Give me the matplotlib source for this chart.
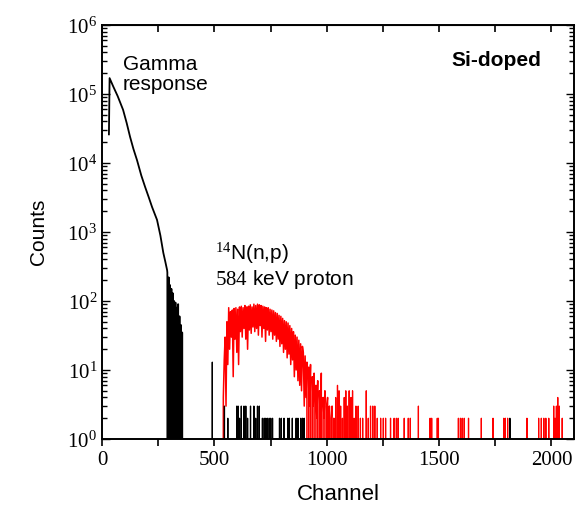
import numpy as np
import matplotlib.pyplot as plt
from matplotlib.ticker import MultipleLocator, FixedLocator, LogLocator, NullFormatter

plt.rcParams['mathtext.fontset'] = 'custom'
plt.rcParams['mathtext.rm'] = 'Liberation Serif'
plt.rcParams['mathtext.it'] = 'Liberation Serif'
plt.rcParams['font.family'] = 'Liberation Sans'

# gamma response (black)
gamma_ch = [31, 34, 50, 70, 94, 110, 125, 140, 156, 175, 192, 208, 223, 245,
            260, 273, 282, 290,
            291, 294, 297, 300, 303, 306, 309, 312, 315, 318, 321, 324, 327,
            330, 333, 336, 339, 342, 345, 348, 351, 354, 357, 360]
gamma_counts = [26000, 170000, 129000, 93000, 59000, 38000, 24000, 16000,
                11000, 6600, 4500, 3200, 2300, 1500, 890, 500, 370, 280,
                260, 0, 220, 0, 170, 0, 150, 0, 130, 0, 100, 0, 95, 0, 80, 0,
                90, 0, 60, 0, 45, 0, 35, 0]

# sparse black counts above the gamma region
black_ch = [491, 545, 560, 600, 606, 612, 620, 632, 640, 648, 661, 676, 684,
            692, 700, 714, 722, 729, 736, 744, 751, 759, 790, 798, 810, 827,
            834, 847, 864, 872, 885, 893, 900, 1815]
black_counts = [13, 3, 2, 3, 3, 2, 3, 3, 3, 2, 3, 3, 2, 3, 3, 2, 2, 2, 2, 2,
                2, 2, 2, 2, 2, 2, 2, 2, 2, 2, 2, 2, 2, 2]

# 14N(n,p) proton peak (red), every 4 channels from 536
peak_start = 536
peak_counts = [0, 4, 14, 30, 3, 50, 12, 80, 20, 70,
               30, 74, 8, 78, 28, 80, 18, 76, 12, 82,
               36, 84, 30, 80, 40, 86, 28, 82, 20, 84,
               38, 88, 34, 82, 42, 90, 36, 86, 40, 90,
               32, 88, 44, 86, 30, 84, 40, 82, 26, 80,
               38, 80, 32, 76, 36, 74, 28, 72, 32, 68,
               26, 66, 28, 62, 22, 60, 24, 56, 18, 52,
               20, 50, 15, 48, 17, 44, 12, 40, 14, 36,
               8, 32, 10, 30, 7, 27, 6, 24, 5, 22,
               18, 3, 16, 4, 13, 0, 11, 3, 12, 0,
               8, 3, 9, 0, 6, 2, 7, 0, 5, 1,
               9, 0, 4, 2, 5, 0, 3, 4, 0, 3,
               0, 2, 3, 0, 2, 0]

# sparse red tail
tail_ch = [1040, 1048, 1055, 1062, 1070, 1078, 1085, 1092, 1100, 1108, 1115,
           1122, 1130, 1140, 1150, 1160, 1176, 1185, 1195, 1205, 1214, 1225,
           1240, 1252, 1262, 1284, 1300, 1310, 1318, 1345, 1363, 1372, 1408,
           1460, 1467, 1492, 1497, 1586, 1595, 1603, 1612, 1631, 1688, 1740,
           1788, 1795, 1805, 1891, 1943, 1955, 1966, 1975, 1988, 2010, 2016,
           2022, 2028, 2035, 2048]
tail_counts = [4, 6, 5, 3, 2, 4, 5, 3, 5, 4, 5, 2, 3, 3, 2, 2, 5, 2, 3, 3, 3,
               2, 2, 2, 2, 2, 2, 2, 2, 2, 2, 2, 3, 2, 2, 2, 2, 2, 2, 2, 2, 2,
               2, 2, 2, 2, 2, 2, 2, 2, 2, 2, 2, 3, 2, 3, 4, 3, 2]

y_ticks = [1, 10, 100, 1e3, 1e4, 1e5, 1e6]

n_ch = 2100
channels = np.arange(n_ch)
red_sparse = np.zeros(n_ch)
red_sparse[tail_ch] = tail_counts
blk_sparse = np.zeros(n_ch)
blk_sparse[black_ch] = black_counts
peak_ch = peak_start + 4 * np.arange(len(peak_counts))

fig = plt.figure(figsize=(5.76, 5.08), dpi=100)
ax = fig.add_axes([0.177, 0.1358, 0.8194, 0.815])
ax.set_yscale('log', nonpositive='clip')

ax.plot(channels[1000:], red_sparse[1000:], color='red', lw=0.9)
ax.plot(peak_ch, peak_counts, color='red', lw=1.1)
ax.plot(channels[400:], blk_sparse[400:], color='black', lw=0.9)
ax.plot(gamma_ch, gamma_counts, color='black', lw=1.3)

ax.set_xlim(0, 2100)
ax.set_ylim(1, 1e6)

ax.xaxis.set_major_locator(MultipleLocator(500))
ax.xaxis.set_minor_locator(MultipleLocator(250))
ax.yaxis.set_major_locator(FixedLocator(y_ticks))
ax.yaxis.set_minor_locator(LogLocator(base=10, subs=np.arange(2, 10), numticks=10))
ax.yaxis.set_minor_formatter(NullFormatter())
ax.set_yticklabels([r'$10^{%d}$' % i for i in range(len(y_ticks))])

for s in ax.spines.values():
    s.set_linewidth(1.4)
ax.tick_params(axis='x', which='both', direction='out', top=False, width=1.2)
ax.tick_params(axis='x', which='major', length=5)
ax.tick_params(axis='x', which='minor', length=5)
ax.tick_params(axis='y', which='both', direction='in', right=True, width=1.0)
ax.tick_params(axis='y', which='major', length=6)
ax.tick_params(axis='y', which='minor', length=3.5)
ax.tick_params(labelsize=15)
for lab in ax.get_xticklabels():
    lab.set_fontfamily('Liberation Serif')

# inward ticks on top spine
top = ax.secondary_xaxis('top')
top.xaxis.set_major_locator(MultipleLocator(250))
top.tick_params(direction='in', length=5, width=1.2, labeltop=False)

ax.set_xlabel('Channel', fontsize=16, labelpad=10)
ax.set_ylabel('Counts', fontsize=15, labelpad=14)

ax.text(94, 1.9e5, 'Gamma\nresponse', fontsize=15, va='center', ha='left',
        linespacing=1.05)
ax.text(0.835, 0.915, 'Si-doped', transform=ax.transAxes, fontsize=15,
        fontweight='bold', ha='center', va='center')
ax.text(505, 3.2e2, r'$\mathrm{^{14}}$N(n,p)' + '\n' + r'$\mathrm{584}$ keV proton',
        fontsize=15, va='center', ha='left', linespacing=1.1)

fig.savefig('out.png', dpi=100)
